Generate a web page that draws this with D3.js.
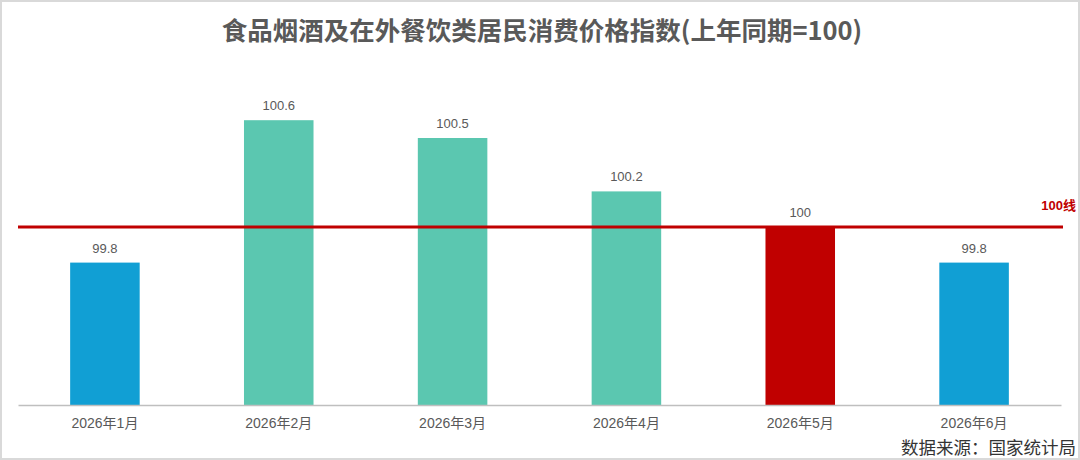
<!DOCTYPE html>
<meta charset="utf-8">
<style>
body { margin: 0; background: #fff; }
text { font-family: "Noto Sans CJK SC", "Liberation Sans", sans-serif; }
.num { font-family: "Liberation Sans", "Noto Sans CJK SC", sans-serif; }
</style>
<svg width="1080" height="460"></svg>
<script src="https://d3js.org/d3.v7.min.js"></script>
<script>

var months = ["2026年1月", "2026年2月", "2026年3月", "2026年4月", "2026年5月", "2026年6月"];
var values = [99.8, 100.6, 100.5, 100.2, 100, 99.8];
var barColors = ["#119FD4", "#5BC7B0", "#5BC7B0", "#5BC7B0", "#C00000", "#119FD4"];
var refValue = 100;

var svg = d3.select("svg"),
    width = +svg.attr("width"),
    height = +svg.attr("height");

// frame
svg.append("rect")
    .attr("x", 1).attr("y", 1)
    .attr("width", width - 2).attr("height", height - 2)
    .attr("fill", "none")
    .attr("stroke", "#d9d9d9")
    .attr("stroke-width", 2);

var x = d3.scaleBand()
    .domain(months)
    .range([18, 1061])
    .paddingInner(0.6)
    .paddingOuter(0.3);

var y = d3.scaleLinear()
    .domain([99, 101])
    .range([405, 49]);

// title
svg.append("text")
    .attr("x", width / 2 + 2)
    .attr("y", 40)
    .attr("text-anchor", "middle")
    .style("font-size", "25.5px")
    .style("font-weight", "bold")
    .attr("fill", "#595959")
    .text("食品烟酒及在外餐饮类居民消费价格指数(上年同期=100)");

var bar = svg.selectAll(".bar")
    .data(months)
    .enter().append("g")
      .attr("class", "bar");

bar.append("rect")
    .attr("x", function(d) { return x(d); })
    .attr("y", function(d, i) { return y(values[i]); })
    .attr("width", x.bandwidth())
    .attr("height", function(d, i) { return y(99) - y(values[i]); })
    .attr("fill", function(d, i) { return barColors[i]; });

bar.append("text")
    .attr("class", "num")
    .attr("x", function(d) { return x(d) + x.bandwidth() / 2; })
    .attr("y", function(d, i) { return y(values[i]) - 10; })
    .attr("text-anchor", "middle")
    .style("font-size", "13px")
    .attr("fill", "#595959")
    .text(function(d, i) { return values[i]; });

// x axis
var xAxis = svg.append("g")
    .attr("transform", "translate(0," + y(99) + ")")
    .call(d3.axisBottom(x).tickSize(0).tickPadding(13));
xAxis.select(".domain").attr("stroke", "#bfbfbf").attr("stroke-width", 1.5);
xAxis.selectAll("text")
    .attr("class", "num")
    .style("font-size", "14px")
    .style("font-family", "'Liberation Sans', 'Noto Sans CJK SC', sans-serif")
    .attr("fill", "#595959");

// 100 line
svg.append("line")
    .attr("x1", 18).attr("x2", 1063)
    .attr("y1", y(refValue)).attr("y2", y(refValue))
    .attr("stroke", "#C00000")
    .attr("stroke-width", 3);

svg.append("text")
    .attr("class", "num")
    .attr("x", 1076)
    .attr("y", y(refValue) - 17)
    .attr("text-anchor", "end")
    .style("font-size", "13px")
    .style("font-weight", "bold")
    .attr("fill", "#C00000")
    .text(refValue + "线");

// source
svg.append("text")
    .attr("x", 1076)
    .attr("y", 454)
    .attr("text-anchor", "end")
    .style("font-size", "17.5px")
    .attr("fill", "#333")
    .text("数据来源：国家统计局");

</script>
